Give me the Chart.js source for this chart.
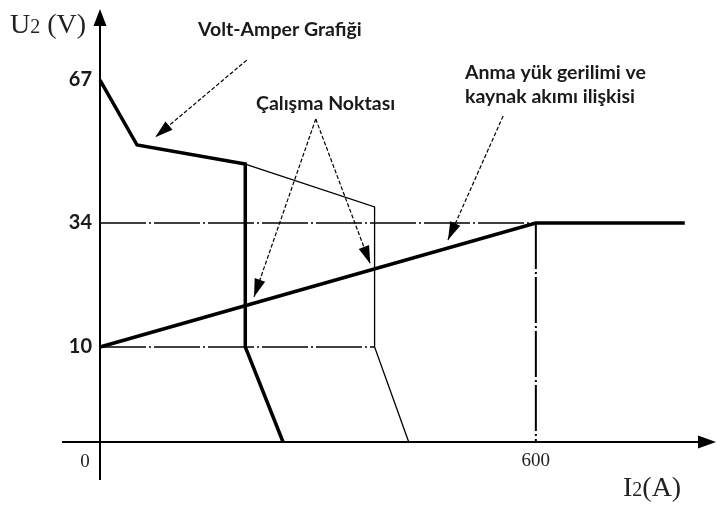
<!DOCTYPE html>
<html>
<head>
<meta charset="utf-8">
<script src="https://cdn.jsdelivr.net/npm/chart.js@4.4.1/dist/chart.umd.min.js"></script>
<style>
  html, body { margin: 0; padding: 0; background: #fff; }
  #wrap { width: 716px; height: 506px; }
</style>
</head>
<body>
<div id="wrap"><canvas id="vaChart" width="716" height="506"></canvas></div>
<script>
// welding source volt-ampere curve and rated load line (schematic)
const vaI = [0, 51, 200, 200, 252];
const vaU = [67, 52, 47.6, 10, 0];
const vaThinI = [200, 378, 378, 425];
const vaThinU = [47.6, 37.7, 10, 0];
const loadI = [0, 600, 805];
const loadU = [10, 34, 34];

// dash-dot guide lines
const guideI = [[0, 600], [0, 378], [600, 600]];
const guideU = [[34, 34], [10, 10], [34, 0]];

// annotation pointers (start -> tip)
const pointerFromI = [202, 297, 297, 555];
const pointerFromU = [71.6, 58, 58, 58.7];
const pointerToI = [76, 212, 372, 479];
const pointerToU = [53.8, 19.7, 26.1, 30.7];

const yTicks = [10, 34, 67];
const xTicks = [600];

// the U axis of the sketch is not to scale: value -> fraction of height
const yStops = [[0, 0], [10, 0.2194], [34, 0.5058], [67, 0.836], [83.4, 1]];

function uToDecimal(u) {
  let i = 1;
  while (i < yStops.length - 1 && u > yStops[i][0]) i++;
  const a = yStops[i - 1], b = yStops[i];
  return a[1] + (u - a[0]) / (b[0] - a[0]) * (b[1] - a[1]);
}
function decimalToU(d) {
  let i = 1;
  while (i < yStops.length - 1 && d > yStops[i][1]) i++;
  const a = yStops[i - 1], b = yStops[i];
  return a[0] + (d - a[1]) / (b[1] - a[1]) * (b[0] - a[0]);
}

class SketchScale extends Chart.LinearScale {
  getPixelForValue(value) {
    return this.getPixelForDecimal(uToDecimal(value));
  }
  getValueForPixel(pixel) {
    return decimalToU(this.getDecimalForPixel(pixel));
  }
}
SketchScale.id = 'sketch';
SketchScale.defaults = Chart.LinearScale.defaults;
Chart.register(SketchScale);

function pts(xs, ys) {
  return xs.map((x, i) => ({ x: x, y: ys[i] }));
}

function line(data, width, dash) {
  return {
    data: data,
    borderColor: '#000',
    borderWidth: width,
    borderDash: dash || [],
    pointRadius: 0,
    fill: false,
    tension: 0,
    clip: false
  };
}

const datasets = [
  line(pts(vaI, vaU), 3.5),
  line(pts(loadI, loadU), 3.5),
  line(pts(vaThinI, vaThinU), 1.3)
];
guideI.forEach((g, i) => datasets.push(line(pts(g, guideU[i]), i == 2 ? 2 : 1.5, [46, 3, 2, 3])));
pointerFromI.forEach((x, i) => {
  datasets.push(line(pts([x, pointerToI[i]], [pointerFromU[i], pointerToU[i]]), 1.2, [4, 2]));
});

function head(ctx, x0, y0, x1, y1, len, half) {
  const a = Math.atan2(y1 - y0, x1 - x0);
  const c = Math.cos(a), s = Math.sin(a);
  ctx.beginPath();
  ctx.moveTo(x1, y1);
  ctx.lineTo(x1 - len * c + half * s, y1 - len * s - half * c);
  ctx.lineTo(x1 - len * c - half * s, y1 - len * s + half * c);
  ctx.closePath();
  ctx.fill();
}

function subText(ctx, x, y, parts) {
  let cx = x;
  parts.forEach(p => {
    ctx.font = p[1] + 'px "Liberation Serif"';
    ctx.fillText(p[0], cx, y);
    cx += ctx.measureText(p[0]).width;
  });
}

const sketch = {
  id: 'sketch',
  afterDraw(chart) {
    const ctx = chart.ctx;
    const xs = chart.scales.x, ys = chart.scales.y;
    const area = chart.chartArea;
    const x0 = xs.getPixelForValue(0), y0 = ys.getPixelForValue(0);
    ctx.save();
    ctx.strokeStyle = '#000';
    ctx.fillStyle = '#000';
    ctx.lineWidth = 2;
    // axes with arrows
    ctx.beginPath();
    ctx.moveTo(x0 - 38, y0);
    ctx.lineTo(area.right - 8, y0);
    ctx.moveTo(x0, y0 + 38);
    ctx.lineTo(x0, area.top + 8);
    ctx.stroke();
    head(ctx, x0 - 38, y0, area.right, y0, 18, 6.5);
    head(ctx, x0, y0 + 38, x0, area.top, 17, 6.5);

    // pointer heads
    pointerFromI.forEach((x, i) => {
      head(ctx,
        xs.getPixelForValue(x), ys.getPixelForValue(pointerFromU[i]),
        xs.getPixelForValue(pointerToI[i]), ys.getPixelForValue(pointerToU[i]),
        18, 5.5);
    });

    // labels
    ctx.fillStyle = '#1a1a1a';
    ctx.textBaseline = 'alphabetic';
    ctx.textAlign = 'left';
    ctx.font = 'bold 19.5px Lato';
    ctx.fillText('Volt-Amper Grafiği', 198, 36);
    ctx.fillText('Çalışma Noktası', 256, 110);
    ctx.fillText('Anma yük gerilimi ve', 465, 79);
    ctx.fillText('kaynak akımı ilişkisi', 465, 103);

    ctx.fillStyle = '#222';
    subText(ctx, 10, 33, [['U', 28], ['2', 20], [' (V)', 28]]);
    subText(ctx, 623, 496, [['I', 28], ['2', 20], ['(A)', 28]]);

    ctx.font = '19px "Liberation Serif"';
    ctx.textAlign = 'center';
    ctx.fillText('0', x0 - 15, 467);
    ctx.restore();
  }
};

new Chart(document.getElementById('vaChart'), {
  type: 'line',
  data: { datasets: datasets },
  plugins: [sketch],
  options: {
    responsive: false,
    animation: false,
    layout: { padding: { top: 9, right: 0, left: 0, bottom: 0 } },
    plugins: {
      legend: { display: false },
      tooltip: { enabled: false }
    },
    scales: {
      x: {
        type: 'linear',
        min: 0,
        max: 848,
        grid: { display: false, drawTicks: false },
        border: { display: false },
        afterBuildTicks: s => { s.ticks = xTicks.map(v => ({ value: v })); },
        afterFit: s => { s.height = 64; s.paddingLeft = 0; s.paddingRight = 0; },
        ticks: {
          padding: 8,
          color: '#222',
          font: { family: 'Liberation Serif', size: 19 },
          callback: v => String(v)
        }
      },
      y: {
        type: 'sketch',
        min: 0,
        max: 83.4,
        grid: { display: false, drawTicks: false },
        border: { display: false },
        afterBuildTicks: s => { s.ticks = yTicks.map(v => ({ value: v })); },
        afterFit: s => { s.width = 100; s.paddingTop = 0; s.paddingBottom = 0; },
        ticks: {
          padding: 8,
          color: '#1a1a1a',
          font: { family: 'Lato', size: 20, weight: 'bold' },
          callback: v => String(v)
        }
      }
    }
  }
});
</script>
</body>
</html>
